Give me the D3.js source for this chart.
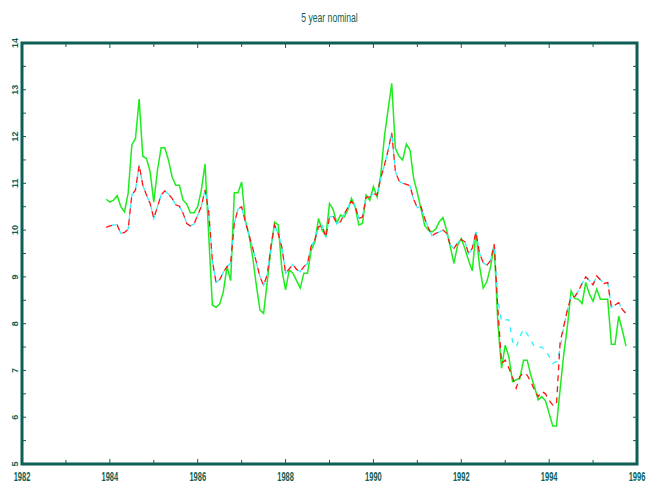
<!DOCTYPE html>
<html>
<head>
<meta charset="utf-8">
<script src="https://cdn.jsdelivr.net/npm/d3@7"></script>
<style>
body { margin: 0; background: #fff; }
</style>
</head>
<body>
<div id="graph"></div>
<script>
// monthly observations, first one is Dec 1983
var startYear = 1983 + 11 / 12;

var greenVals = [10.66, 10.60, 10.64, 10.74, 10.50, 10.39, 10.79, 11.82, 11.96, 12.80, 11.58, 11.53,
  11.25, 10.60, 11.28, 11.76, 11.76, 11.50, 11.14, 10.96, 10.96, 10.64, 10.56, 10.37,
  10.37, 10.50, 10.86, 11.41, 9.90, 8.40, 8.35, 8.42, 8.68, 9.22, 8.92, 10.80,
  10.80, 11.03, 10.21, 9.90, 9.43, 8.83, 8.29, 8.22, 8.90, 9.61, 10.17, 10.11,
  9.15, 8.72, 9.15, 9.08, 8.92, 8.76, 9.08, 9.08, 9.57, 9.75, 10.25, 10.00,
  9.87, 10.57, 10.44, 10.15, 10.32, 10.28, 10.43, 10.68, 10.50, 10.11, 10.14, 10.75,
  10.64, 10.93, 10.71, 11.18, 12.00, 12.57, 13.14, 11.75, 11.58, 11.50, 11.84, 11.71,
  11.10, 10.80, 10.45, 10.10, 10.00, 9.96, 10.02, 10.18, 10.27, 10.00, 9.64, 9.29,
  9.68, 9.82, 9.60, 9.35, 9.13, 9.96, 9.22, 8.76, 8.90, 9.22, 9.68, 8.00,
  7.05, 7.54, 7.29, 6.76, 6.80, 6.83, 7.22, 7.22, 6.90, 6.65, 6.37, 6.44,
  6.35, 6.08, 5.81, 5.81, 6.60, 7.35, 7.95, 8.70, 8.54, 8.52, 8.43, 8.88,
  8.63, 8.48, 8.74, 8.52, 8.52, 8.52, 7.56, 7.56, 8.16, 7.86, 7.52];

var redVals = [10.06, 10.09, 10.11, 10.11, 9.93, 9.95, 10.02, 10.75, 10.86, 11.39, 10.96, 10.75,
  10.57, 10.25, 10.50, 10.75, 10.84, 10.77, 10.68, 10.54, 10.51, 10.36, 10.14, 10.09,
  10.13, 10.32, 10.51, 10.86, 10.40, 9.35, 8.88, 8.94, 9.10, 9.22, 9.30, 10.14,
  10.45, 10.50, 10.18, 9.90, 9.62, 9.32, 9.00, 8.82, 9.05, 9.65, 10.11, 9.92,
  9.63, 9.08, 9.17, 9.27, 9.16, 9.11, 9.22, 9.29, 9.66, 9.79, 10.07, 10.10,
  9.85, 10.28, 10.30, 10.14, 10.18, 10.34, 10.48, 10.62, 10.51, 10.25, 10.28, 10.70,
  10.71, 10.78, 10.75, 11.11, 11.39, 11.70, 12.08, 11.25, 11.05, 11.00, 10.98, 10.95,
  10.65, 10.48, 10.50, 10.25, 10.05, 9.88, 9.93, 9.96, 10.00, 9.93, 9.68, 9.61,
  9.73, 9.80, 9.75, 9.50, 9.61, 9.96, 9.50, 9.30, 9.25, 9.35, 9.70, 8.30,
  7.15, 7.22, 7.05, 6.85, 6.62, 6.87, 6.95, 6.90, 6.76, 6.58, 6.44, 6.55,
  6.50, 6.36, 6.26, 6.26, 7.60, 7.95, 8.30, 8.58, 8.58, 8.70, 8.86, 9.00,
  8.92, 8.83, 9.02, 8.94, 8.86, 8.88, 8.35, 8.40, 8.45, 8.30, 8.22];

var cyanVals = [10.06, 10.09, 10.11, 10.11, 9.93, 9.95, 10.02, 10.75, 10.86, 11.39, 10.96, 10.75,
  10.57, 10.25, 10.50, 10.75, 10.84, 10.77, 10.68, 10.54, 10.51, 10.36, 10.14, 10.09,
  10.13, 10.32, 10.51, 10.86, 10.40, 9.35, 8.88, 8.94, 9.10, 9.22, 9.30, 10.14,
  10.45, 10.50, 10.18, 9.90, 9.62, 9.32, 9.00, 8.82, 9.05, 9.65, 10.11, 9.92,
  9.63, 9.08, 9.17, 9.27, 9.16, 9.11, 9.22, 9.29, 9.66, 9.79, 10.07, 10.10,
  9.85, 10.28, 10.30, 10.14, 10.18, 10.34, 10.48, 10.62, 10.51, 10.25, 10.28, 10.70,
  10.71, 10.78, 10.75, 11.11, 11.39, 11.70, 12.08, 11.25, 11.05, 11.00, 10.98, 10.95,
  10.65, 10.48, 10.50, 10.25, 10.05, 9.88, 9.93, 9.96, 10.00, 9.93, 9.68, 9.61,
  9.73, 9.80, 9.75, 9.50, 9.61, 9.96, 9.50, 9.30, 9.25, 9.35, 9.70, 8.50,
  8.05, 8.08, 8.08, 7.62, 7.50, 7.72, 7.88, 7.78, 7.65, 7.50, 7.50, 7.50,
  7.42, 7.30, 7.15, 7.19, 7.45, 7.95, 8.30, 8.58, 8.58, 8.70, 8.86, 9.00,
  8.92, 8.83, 9.02, 8.94, 8.86, 8.88, 8.35, 8.40, 8.45, 8.30, 8.22];

var yearTicks = d3.range(1982, 1997);
var yearLabels = [1982, 1984, 1986, 1988, 1990, 1992, 1994, 1996];
var rateTicks = d3.range(5, 14.01, 0.5);
var rateLabels = [5, 6, 7, 8, 9, 10, 11, 12, 13, 14];

var W = 647, H = 489;
var plotL = 22, plotR = 637, plotT = 43, plotB = 464;
var teal = "#0d5f55";
var font = "'Liberation Sans', Arial, sans-serif";

var x = d3.scaleLinear().domain([1982, 1996]).range([plotL, plotR]);
var y = d3.scaleLinear().domain([5, 14]).range([plotB, plotT]);

var svg = d3.select("#graph").append("svg")
            .attr("width", W)
            .attr("height", H);

// title
svg.append("text")
    .attr("transform", "translate(" + ((plotL + plotR) / 2) + ",22) scale(0.72,1)")
    .attr("text-anchor", "middle")
    .attr("font-family", font)
    .attr("font-size", "12px")
    .attr("fill", teal)
    .text("5 year nominal");

// ticks on all four sides, pointing inward
var tk = svg.append("g").attr("stroke", teal).attr("stroke-width", 1);
yearTicks.forEach(function(t) {
    var len = t % 2 == 0 ? 5 : 4;
    tk.append("line").attr("x1", x(t)).attr("x2", x(t)).attr("y1", plotB).attr("y2", plotB - len);
    tk.append("line").attr("x1", x(t)).attr("x2", x(t)).attr("y1", plotT).attr("y2", plotT + len);
});
rateTicks.forEach(function(t) {
    tk.append("line").attr("x1", plotL).attr("x2", plotL + 4).attr("y1", y(t)).attr("y2", y(t));
    tk.append("line").attr("x1", plotR).attr("x2", plotR - 4).attr("y1", y(t)).attr("y2", y(t));
});

// year labels
svg.append("g").selectAll("text")
    .data(yearLabels)
    .enter().append("text")
    .attr("transform", d => "translate(" + x(d) + ",481) scale(0.6,1)")
    .attr("text-anchor", "middle")
    .attr("font-family", font)
    .attr("font-size", "12.5px")
    .attr("font-weight", "bold")
    .attr("fill", teal)
    .text(d => d);

// rate labels, rotated
svg.append("g").selectAll("text")
    .data(rateLabels)
    .enter().append("text")
    .attr("transform", d => "translate(18," + y(d) + ") rotate(-90)")
    .attr("text-anchor", "middle")
    .attr("font-family", font)
    .attr("font-size", "9px")
    .attr("font-weight", "bold")
    .attr("fill", teal)
    .text(d => d);

var line = d3.line()
            .x(function(d, i) { return x(startYear + i / 12); })
            .y(function(d) { return y(d); });

var plot = svg.append("g")
    .attr("fill", "none");

plot.append("path").attr("d", line(greenVals)).attr("stroke", "#1fec1f")
    .attr("stroke-width", 1.5);
plot.append("path").attr("d", line(cyanVals)).attr("stroke", "#2ef0ff")
    .attr("stroke-width", 1.3)
    .attr("stroke-dasharray", "5,6")
    .attr("stroke-dashoffset", -5.5);
plot.append("path").attr("d", line(redVals)).attr("stroke", "#ff1414")
    .attr("stroke-width", 1.3)
    .attr("stroke-dasharray", "6,5");

// frame
svg.append("rect")
    .attr("x", plotL).attr("y", plotT)
    .attr("width", plotR - plotL).attr("height", plotB - plotT)
    .attr("fill", "none")
    .attr("stroke", teal)
    .attr("stroke-width", 3);
</script>
</body>
</html>
